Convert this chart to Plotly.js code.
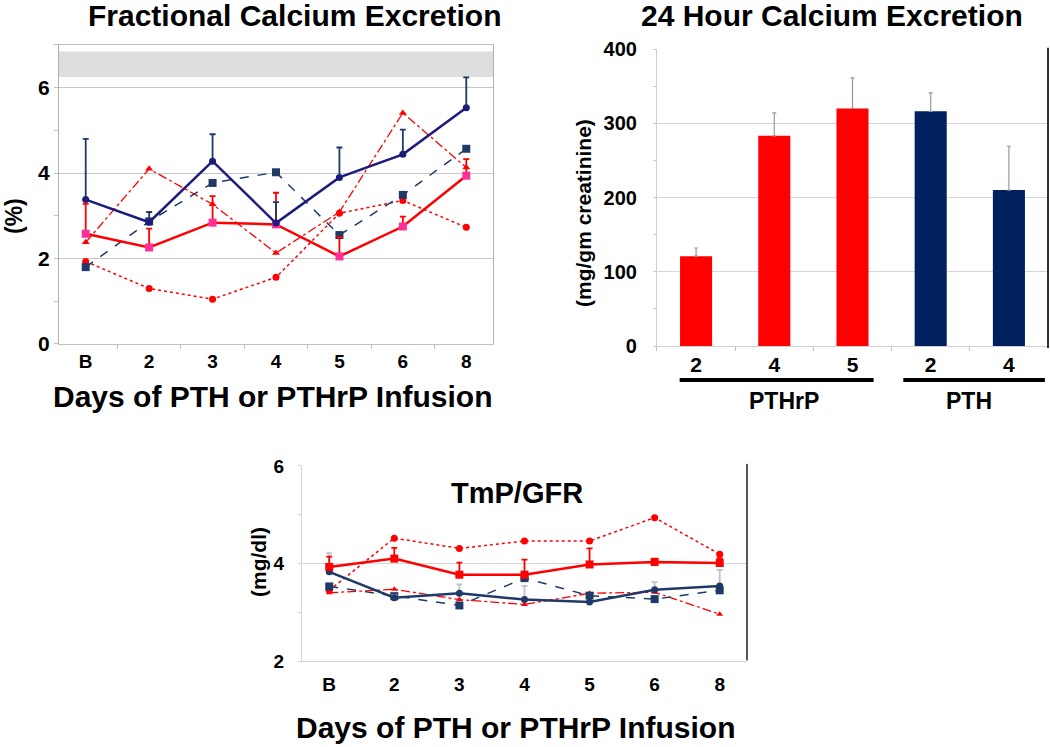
<!DOCTYPE html>
<html>
<head>
<meta charset="utf-8">
<script src="https://cdn.plot.ly/plotly-3.0.1.min.js"></script>
<style>
  html, body { margin: 0; padding: 0; background: #fff; }
  #chart { width: 1050px; height: 747px; }
</style>
</head>
<body>
<div id="chart"></div>
<script>
// days of infusion, B = baseline
var days = ['B', '2', '3', '4', '5', '6', '8'];

// Fractional calcium excretion (%)
var fePthMean = [3.38, 2.85, 4.28, 2.83, 3.90, 4.44, 5.53];
var fePthSE = [1.42, 0.24, 0.63, 0.49, 0.70, 0.58, 0.71];
var fePthrpMean = [2.58, 2.26, 2.84, 2.80, 2.05, 2.75, 3.94];
var fePthrpSE = [0.70, 0.44, 0.62, 0.74, 0.45, 0.23, 0.39];
var fePthSingle = [1.80, 2.87, 3.77, 4.02, 2.55, 3.49, 4.57];
var fePthrpTri = [2.38, 4.10, 3.27, 2.13, 3.09, 5.41, 4.13];
var fePthrpDot = [1.93, 1.30, 1.05, 1.56, 3.06, 3.36, 2.73];
var feNormal = [6.25, 6.85];

// 24 hour calcium excretion (mg/gm creatinine)
var caGroup = ['PTHrP', 'PTHrP', 'PTHrP', 'PTH', 'PTH'];
var caDay = ['2', '4', '5', '2', '4'];
var caMean = [121, 283, 320, 316, 210];
var caSE = [11, 31, 41, 25, 59];

// TmP/GFR (mg/dl)
var tmPthrpMean = [3.93, 4.10, 3.77, 3.77, 3.98, 4.03, 4.01];
var tmPthrpSE = [0.21, 0.22, 0.25, 0.31, 0.33, 0.07, 0.10];
var tmPthMean = [3.83, 3.30, 3.39, 3.26, 3.21, 3.46, 3.54];
var tmPthSE = [0.38, 0.05, 0.18, 0.28, 0.04, 0.16, 0.33];
var tmPthrpDot = [3.45, 4.52, 4.31, 4.46, 4.46, 4.94, 4.19];
var tmPthrpTri = [3.40, 3.47, 3.26, 3.16, 3.39, 3.41, 2.96];
var tmPthSingle = [3.53, 3.33, 3.14, 3.70, 3.34, 3.27, 3.45];

var RED = '#ff0000';
var NAVY = '#1c1c7c';
var SLATE = '#1f3a66';
var DARKBLUE = '#002060';
var FAMILY = 'Liberation Sans, Arial, sans-serif';

function zeros(n) { var a = []; for (var i = 0; i < n; i++) a.push(0); return a; }

function line(y, ax, color, width, dash, sym, msize, mcolor, se, ecolor) {
  var t = {
    x: days, y: y, xaxis: 'x' + ax, yaxis: 'y' + ax,
    type: 'scatter', mode: 'lines+markers',
    line: {color: color, width: width, dash: dash},
    marker: {symbol: sym, size: msize, color: mcolor || color}
  };
  if (se) {
    t.error_y = {type: 'data', symmetric: false, array: se, arrayminus: zeros(se.length),
                 color: ecolor || color, thickness: 1.8, width: 3};
  }
  return t;
}

var data = [
  // fractional calcium excretion
  line(fePthrpDot, '', RED, 1.5, 'dot', 'circle', 7),
  line(fePthrpTri, '', RED, 1.3, 'dashdot', 'triangle-up', 7),
  line(fePthSingle, '', SLATE, 1.5, 'dash', 'square', 8),
  line(fePthrpMean, '', RED, 2.5, 'solid', 'square', 8, '#ff2f9a', fePthrpSE),
  line(fePthMean, '', NAVY, 2.5, 'solid', 'circle', 7, NAVY, fePthSE, '#1f3a66'),
  // 24 hour calcium excretion
  {
    x: caGroup.map(function (g, i) { return g + ' ' + caDay[i]; }),
    y: caMean, xaxis: 'x2', yaxis: 'y2', type: 'bar',
    marker: {color: caGroup.map(function (g) { return g === 'PTHrP' ? RED : DARKBLUE; })},
    error_y: {type: 'data', symmetric: false, array: caSE, arrayminus: zeros(caSE.length),
              color: '#999999', thickness: 1.2, width: 2}
  },
  // TmP/GFR
  line(tmPthrpDot, '3', RED, 1.5, 'dot', 'circle', 7),
  line(tmPthrpTri, '3', RED, 1.3, 'dashdot', 'triangle-up', 6),
  line(tmPthSingle, '3', SLATE, 1.5, 'dash', 'square', 8),
  line(tmPthMean, '3', SLATE, 2.5, 'solid', 'circle', 7, SLATE, tmPthSE, '#b8c4cf'),
  line(tmPthrpMean, '3', RED, 2.5, 'solid', 'square', 8, RED, tmPthrpSE)
];

var tickFont = {family: FAMILY, size: 19, color: '#000', weight: 'bold'};

function catAxis(domain, anchor) {
  return {
    domain: domain, anchor: anchor, type: 'category', tickson: 'boundaries',
    ticks: 'outside', ticklen: 4, tickcolor: '#c0c0c0', showgrid: false,
    showline: true, linecolor: '#b0b0b0', linewidth: 1.2,
    tickfont: tickFont, fixedrange: true
  };
}

function label(text, x, y, size, angle, xref) {
  return {text: text, xref: xref || 'paper', yref: 'paper', x: x, y: y,
          xanchor: 'center', yanchor: 'middle', showarrow: false, textangle: angle || 0,
          font: {family: FAMILY, size: size, color: '#000', weight: 'bold'}};
}

var layout = {
  width: 1050, height: 747,
  margin: {l: 0, r: 0, t: 0, b: 0},
  paper_bgcolor: '#fff', plot_bgcolor: '#fff',
  showlegend: false,
  bargap: 0.59,
  xaxis: Object.assign(catAxis([0.0562, 0.4695], 'y'), {mirror: true, linecolor: '#bfbfbf'}),
  yaxis: {
    domain: [0.5395, 0.9398], anchor: 'x', range: [0, 7], tickvals: [0, 2, 4, 6],
    showgrid: true, gridcolor: '#c6c6c6', gridwidth: 1.2, zeroline: false,
    showline: true, linecolor: '#b0b0b0', mirror: true, linewidth: 1.2,
    ticks: 'outside', ticklen: 4, tickcolor: '#c0c0c0',
    minor: {dtick: 1, ticks: 'outside', ticklen: 4, tickcolor: '#c0c0c0'},
    tickfont: {family: FAMILY, size: 21, color: '#000', weight: 'bold'}
  },
  xaxis2: Object.assign(catAxis([0.6257, 0.9981], 'y2'), {
    tickmode: 'array',
    tickvals: caGroup.map(function (g, i) { return g + ' ' + caDay[i]; }),
    ticktext: caDay, linecolor: '#d0d0d0',
    tickfont: {family: FAMILY, size: 21, color: '#000', weight: 'bold'}
  }),
  yaxis2: {
    domain: [0.5368, 0.9344], anchor: 'x2', range: [0, 400], dtick: 100,
    showgrid: true, gridcolor: '#d6d6d6', zeroline: false,
    showline: true, linecolor: '#d0d0d0',
    ticks: 'outside', ticklen: 3, tickcolor: '#d0d0d0', ticklabelstandoff: 12,
    minor: {dtick: 50, ticks: 'outside', ticklen: 3, tickcolor: '#d0d0d0'},
    tickfont: {family: FAMILY, size: 20, color: '#000', weight: 'bold'}
  },
  xaxis3: Object.assign(catAxis([0.2876, 0.7114], 'y3'), {ticks: '', linecolor: '#d0d0d0', ticklabelstandoff: 6}),
  yaxis3: {
    domain: [0.1151, 0.3762], anchor: 'x3', range: [2, 6], tickvals: [2, 4, 6],
    showgrid: true, gridcolor: '#d6d6d6', zeroline: false,
    showline: true, linecolor: '#d6d6d6',
    ticks: 'outside', ticklen: 3, tickcolor: '#d0d0d0', ticklabelstandoff: 10,
    minor: {dtick: 1, ticks: 'outside', ticklen: 3, tickcolor: '#d0d0d0'},
    tickfont: tickFont
  },
  shapes: [
    {type: 'rect', xref: 'x domain', yref: 'y', x0: 0, x1: 1, y0: feNormal[0], y1: feNormal[1],
     fillcolor: '#dedede', line: {width: 0}, layer: 'below'},
    {type: 'line', xref: 'paper', yref: 'paper', x0: 0.9981, x1: 0.9981, y0: 0.534, y1: 0.936,
     line: {color: '#333', width: 2}},
    {type: 'line', xref: 'paper', yref: 'paper', x0: 0.7114, x1: 0.7114, y0: 0.116, y1: 0.379,
     line: {color: '#555', width: 2}},
    {type: 'line', xref: 'x2', yref: 'paper', x0: -0.21, x1: 2.27, y0: 0.4913, y1: 0.4913,
     line: {color: '#000', width: 4}},
    {type: 'line', xref: 'x2', yref: 'paper', x0: 2.65, x1: 4.46, y0: 0.4913, y1: 0.4913,
     line: {color: '#000', width: 4}}
  ],
  annotations: [
    label('Fractional Calcium Excretion', 294 / 1050, 1 - 15 / 747, 30),
    label('24 Hour Calcium Excretion', 832 / 1050, 1 - 15 / 747, 30),
    label('TmP/GFR', 517 / 1050, 1 - 493 / 747, 29),
    label('Days of PTH or PTHrP Infusion', 273 / 1050, 1 - 396 / 747, 30),
    label('Days of PTH or PTHrP Infusion', 516 / 1050, 1 - 727 / 747, 30),
    label('(%)', 14 / 1050, 1 - 216 / 747, 23, -90),
    label('(mg/gm creatinine)', 583 / 1050, 1 - 213 / 747, 21, -90),
    label('(mg/dl)', 258 / 1050, 1 - 562 / 747, 21, -90),
    label('PTHrP', 1.13, 1 - 401 / 747, 23, 0, 'x2'),
    label('PTH', 3.49, 1 - 401 / 747, 23, 0, 'x2')
  ]
};

Plotly.newPlot('chart', data, layout, {staticPlot: true});
</script>
</body>
</html>
